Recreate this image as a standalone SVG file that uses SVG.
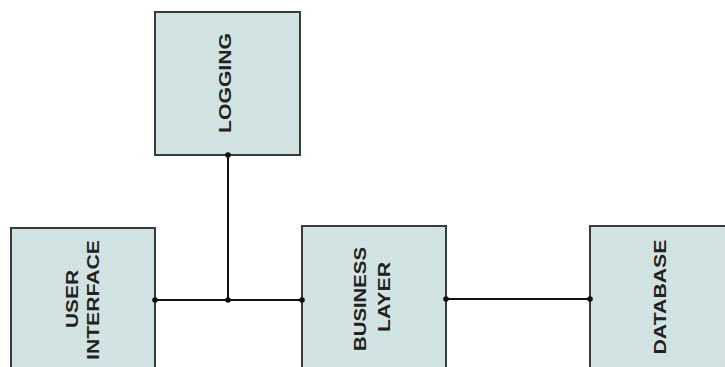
<svg xmlns="http://www.w3.org/2000/svg" width="725" height="367" viewBox="0 0 725 367">
<style>
.box{fill:url(#dots);stroke:#3a3a3a;stroke-width:2}
.lbl{font-family:"Liberation Sans",Arial,sans-serif;font-weight:bold;font-size:17px;fill:#222;text-anchor:middle}
.wire{stroke:#111;stroke-width:2;fill:none}
.dot{fill:#111}
</style>
<defs>
<pattern id="dots" width="4" height="4" patternUnits="userSpaceOnUse">
<rect width="4" height="4" fill="#cfe5e4"/>
<rect x="0" y="0" width="2" height="2" fill="#d6dede"/>
</pattern>
</defs>
<rect width="725" height="367" fill="#fff"/>
<g id="logging">
<rect class="box" x="155" y="12" width="145" height="143"/>
<text class="lbl" transform="translate(231,83) rotate(-90)" textLength="100" lengthAdjust="spacingAndGlyphs">LOGGING</text>
</g>
<g id="user-interface">
<rect class="box" x="11" y="228" width="144" height="150"/>
<text class="lbl" transform="translate(78,299) rotate(-90)" textLength="58" lengthAdjust="spacingAndGlyphs">USER</text>
<text class="lbl" transform="translate(99,300) rotate(-90)" textLength="120" lengthAdjust="spacingAndGlyphs">INTERFACE</text>
</g>
<g id="business-layer">
<rect class="box" x="302" y="226" width="144" height="150"/>
<text class="lbl" transform="translate(366,299) rotate(-90)" textLength="104" lengthAdjust="spacingAndGlyphs">BUSINESS</text>
<text class="lbl" transform="translate(390,297) rotate(-90)" textLength="70" lengthAdjust="spacingAndGlyphs">LAYER</text>
</g>
<g id="database">
<rect class="box" x="590" y="226" width="150" height="150"/>
<text class="lbl" transform="translate(666,297) rotate(-90)" textLength="115" lengthAdjust="spacingAndGlyphs">DATABASE</text>
</g>
<g id="connectors">
<path class="wire" d="M155,300 H302"/>
<path class="wire" d="M228,155 V300"/>
<path class="wire" d="M446,299 H590"/>
<circle class="dot" cx="155" cy="300" r="2.8"/>
<circle class="dot" cx="228" cy="300" r="2.8"/>
<circle class="dot" cx="302" cy="300" r="2.8"/>
<circle class="dot" cx="228" cy="155" r="2.8"/>
<circle class="dot" cx="446" cy="299" r="2.8"/>
<circle class="dot" cx="590" cy="299" r="2.8"/>
</g>
</svg>
